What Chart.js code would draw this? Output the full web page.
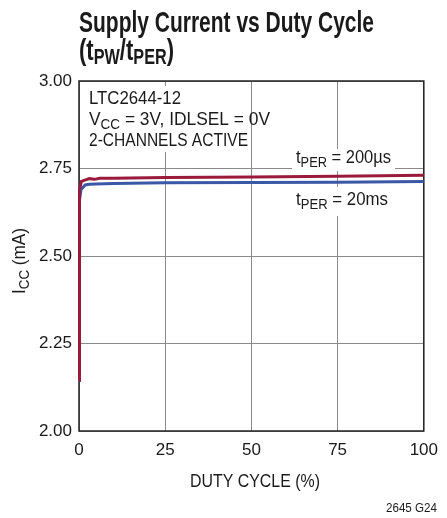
<!DOCTYPE html>
<html><head><meta charset="utf-8">
<script src="https://cdn.jsdelivr.net/npm/chart.js@4/dist/chart.umd.min.js"></script>
<style>html,body{margin:0;padding:0;background:#fff;}canvas{display:block;}</style>
</head><body>
<canvas id="c" width="447" height="518"></canvas>
<script>
// ---- data ----
const duty200us = [0, 0.15, 0.7, 1.5, 3, 4.5, 6, 10, 25, 50, 75, 100];
const icc200us  = [2.145, 2.69, 2.713, 2.716, 2.721, 2.719, 2.722, 2.722, 2.724, 2.726, 2.728, 2.731];
const duty20ms  = [0, 0.15, 0.6, 1.8, 3, 5, 10, 25, 50, 75, 100];
const icc20ms   = [2.145, 2.66, 2.69, 2.703, 2.705, 2.706, 2.707, 2.709, 2.710, 2.711, 2.713];
const xTickValues = [0, 25, 50, 75, 100];
const yTickValues = [2.00, 2.25, 2.50, 2.75, 3.00];
const seriesNames = ['tPER = 200µs', 'tPER = 20ms'];

const FONT = '"Liberation Sans", Arial, Helvetica, sans-serif';
const TXT = '#1a1a1a';

function drawRich(ctx, segs, x, y, o) {
  const base = o.size, sub = o.subSize || Math.round(base * 0.8);
  const f = (s) => `${o.bold ? 'bold ' : ''}${s}px ${FONT}`;
  ctx.save();
  let w = 0;
  const parts = segs.map(s => { const sz = s.sub ? sub : base; ctx.font = f(sz); const m = ctx.measureText(s.t).width; w += m; return { t: s.t, sub: s.sub, sz, m }; });
  const sx = o.width ? o.width / w : (o.sx || 1);
  ctx.translate(x, y);
  if (o.rot) ctx.rotate(o.rot);
  ctx.scale(sx, 1);
  let cx = o.align === 'center' ? -w / 2 : o.align === 'right' ? -w : 0;
  ctx.fillStyle = o.color || TXT;
  ctx.textBaseline = 'alphabetic';
  ctx.textAlign = 'left';
  const dy = o.subDy != null ? o.subDy : base * 0.22;
  for (const p of parts) { ctx.font = f(p.sz); ctx.fillText(p.t, cx, p.sub ? dy : 0); cx += p.m; }
  ctx.restore();
  return sx;
}

const decorations = {
  id: 'decorations',
  beforeDatasetsDraw(chart) {
    const ctx = chart.ctx, a = chart.chartArea;
    ctx.save();
    // knock-out boxes behind in-plot labels
    ctx.fillStyle = '#fff';
    ctx.fillRect(84, 86, 166, 66);
    ctx.fillRect(292, 149, 103, 22);
    ctx.fillRect(292, 187, 100, 29);
    // frame
    ctx.strokeStyle = '#222';
    ctx.lineWidth = 1.5;
    ctx.strokeRect(a.left, a.top, a.right - a.left, a.bottom - a.top);
    ctx.restore();

    // annotation text
    drawRich(ctx, [{ t: 'LTC2644-12' }], 89, 104, { size: 18, width: 92 });
    drawRich(ctx, [{ t: 'V' }, { t: 'CC', sub: true }, { t: ' = 3V, IDLSEL = 0V' }], 89, 125, { size: 18, width: 181 });
    drawRich(ctx, [{ t: '2-CHANNELS ACTIVE' }], 89, 146, { size: 18, width: 159 });
    drawRich(ctx, [{ t: 't' }, { t: 'PER', sub: true }, { t: seriesNames[0].slice(4) }], 296, 163, { size: 18, width: 95 });
    drawRich(ctx, [{ t: 't' }, { t: 'PER', sub: true }, { t: seriesNames[1].slice(4) }], 296, 205, { size: 18, width: 92 });

    // title
    const sx = drawRich(ctx, [{ t: 'Supply Current vs Duty Cycle' }], 79, 32, { size: 30, bold: true, width: 295 });
    drawRich(ctx, [{ t: '(t' }, { t: 'PW', sub: true }, { t: '/t' }, { t: 'PER', sub: true }, { t: ')' }], 79, 60, { size: 30, bold: true, width: 95, subSize: 22, subDy: 4 });

    // axis titles
    drawRich(ctx, [{ t: 'DUTY CYCLE (%)' }], 255, 487, { size: 18, align: 'center', width: 130 });
    drawRich(ctx, [{ t: 'I' }, { t: 'CC', sub: true }, { t: ' (mA)' }], 25, 261, { size: 18, align: 'center', rot: -Math.PI / 2, width: 66 });

    // figure id
    drawRich(ctx, [{ t: '2645 G24' }], 437, 512, { size: 12, align: 'right', width: 51 });
  }
};

const ctx = document.getElementById('c').getContext('2d');
new Chart(ctx, {
  type: 'scatter',
  data: {
    datasets: [
      { label: seriesNames[0], data: duty200us.map((x, i) => ({ x, y: icc200us[i] })), showLine: true,
        borderColor: '#9a1a3c', borderWidth: 3, pointRadius: 0, tension: 0, clip: 6 },
      { label: seriesNames[1], data: duty20ms.map((x, i) => ({ x, y: icc20ms[i] })), showLine: true,
        borderColor: '#3a58a6', borderWidth: 3, pointRadius: 0, tension: 0, clip: 6 }
    ]
  },
  options: {
    responsive: false, animation: false, devicePixelRatio: 1,
    layout: { padding: { left: 0, top: 81, right: 16, bottom: 0 } },
    plugins: { legend: { display: false }, tooltip: { enabled: false }, title: { display: false } },
    scales: {
      x: {
        type: 'linear', min: 0, max: 100,
        afterBuildTicks: s => { s.ticks = xTickValues.map(v => ({ value: v })); },
        afterFit: s => { s.height = 87; },
        grid: { color: '#8a8a8a', lineWidth: 1, drawTicks: false },
        border: { display: false },
        ticks: { padding: 9, color: TXT, font: { family: FONT, size: 17 }, maxRotation: 0 }
      },
      y: {
        type: 'linear', min: 2, max: 3,
        afterBuildTicks: s => { s.ticks = yTickValues.map(v => ({ value: v })); },
        afterFit: s => { s.width = 79; },
        grid: { color: '#8a8a8a', lineWidth: 1, drawTicks: false },
        border: { display: false },
        ticks: { padding: 7, color: TXT, font: { family: FONT, size: 17 }, callback: v => Number(v).toFixed(2) }
      }
    }
  },
  plugins: [decorations]
});
</script>
</body></html>
